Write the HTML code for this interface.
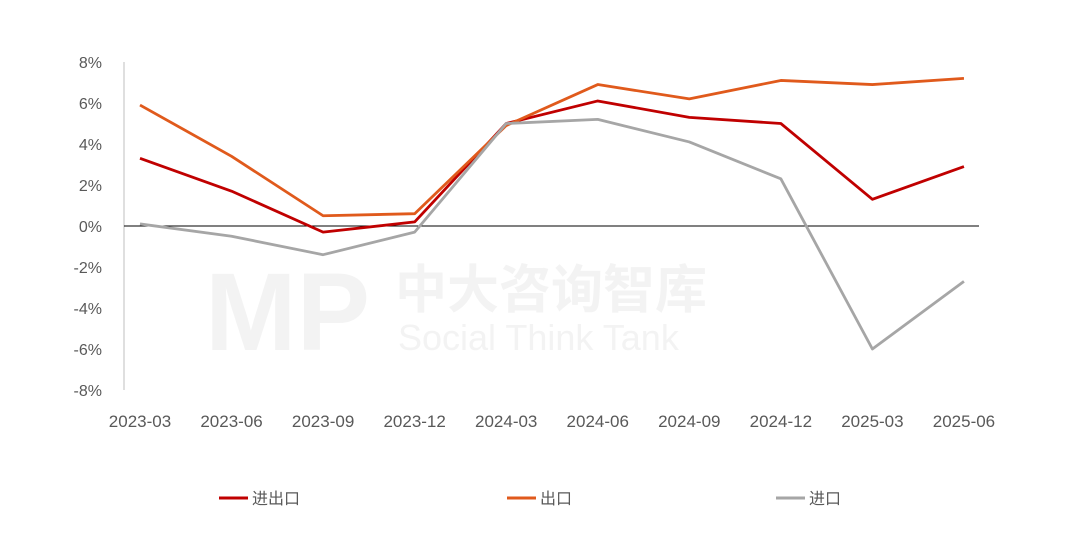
<!DOCTYPE html>
<html><head><meta charset="utf-8"><style>
body{margin:0;background:#fff;}
svg text{font-family:"Liberation Sans","Noto Sans CJK SC",sans-serif;}
</style></head><body>
<svg width="1069" height="530">
<g fill="#f3f3f3">
<text x="395" y="308" font-size="52" font-weight="bold">中大咨询智库</text>
<text x="398" y="350" font-size="36">Social Think Tank</text>
<text x="205" y="350" font-size="110" font-weight="bold">MP</text>
</g>
<g id="yaxis"></g>
<g id="xaxis"></g>
<g id="series"></g>
<g id="legend"></g>
</svg>
<script>
const categories=["2023-03","2023-06","2023-09","2023-12","2024-03","2024-06","2024-09","2024-12","2025-03","2025-06"];
const total=[3.3,1.7,-0.3,0.2,5.0,6.1,5.3,5.0,1.3,2.9];
const exportV=[5.9,3.4,0.5,0.6,4.9,6.9,6.2,7.1,6.9,7.2];
const importV=[0.1,-0.5,-1.4,-0.3,5.0,5.2,4.1,2.3,-6.0,-2.7];
const yTicks=[8,6,4,2,0,-2,-4,-6,-8];
const names=["进出口","出口","进口"];
const NS="http://www.w3.org/2000/svg";
const y=v=>226-v*20.5;
const x=i=>140+i*91.55;
function mk(t,a,p){const e=document.createElementNS(NS,t);for(const k in a)e.setAttribute(k,a[k]);p.appendChild(e);return e;}
const ya=document.getElementById('yaxis');
const al=mk('line',{x1:124,x2:124,y1:62,y2:390,stroke:'#bfbfbf','stroke-width':1},ya);


yTicks.forEach(v=>{const t=mk('text',{x:102,y:y(v)+6,'text-anchor':'end','font-size':16,fill:'#595959'},ya);t.textContent=v+'%';

});
const xa=document.getElementById('xaxis');
const zl=mk('line',{x1:124,x2:979,y1:y(0),y2:y(0),stroke:'#000','stroke-width':1},xa);


categories.forEach((c,i)=>{const t=mk('text',{x:x(i),y:427,'text-anchor':'middle','font-size':17,fill:'#595959'},xa);t.textContent=c;

});
const sg=document.getElementById('series');
const lg=document.getElementById('legend');
const data=[total,exportV,importV],cols=['#c00000','#e05a1c','#a6a6a6'],lx=[219,507,776];
data.forEach((d,k)=>{const p=mk('polyline',{points:d.map((v,i)=>x(i)+','+y(v)).join(' '),fill:'none',stroke:cols[k],'stroke-width':2.8,'stroke-linejoin':'round'},sg);


const l=mk('line',{x1:lx[k],x2:lx[k]+29,y1:498,y2:498,stroke:cols[k],'stroke-width':3},lg);


const t=mk('text',{x:lx[k]+33,y:504,'font-size':16,fill:'#595959'},lg);t.textContent=names[k];

});
</script>
</body></html>
